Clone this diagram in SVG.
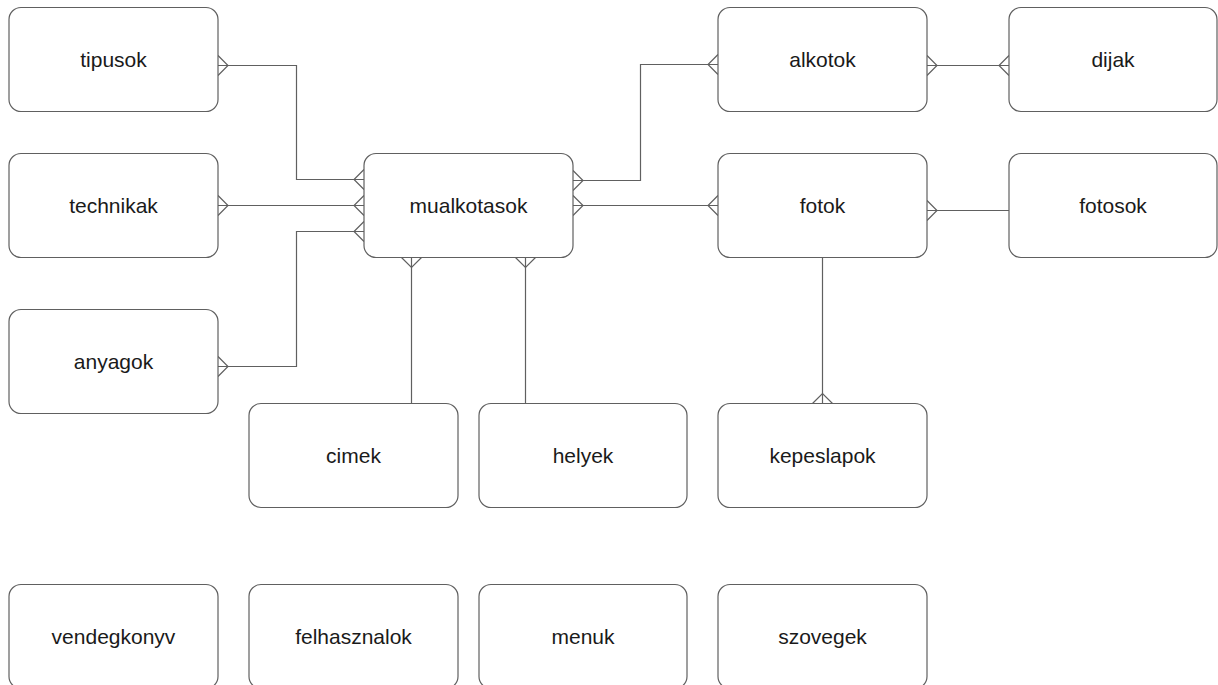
<svg xmlns="http://www.w3.org/2000/svg" width="1218" height="685" viewBox="0 0 1218 685">
<style>
.box{fill:#ffffff;stroke:#606060;stroke-width:1.2}
.lbl{font-family:"Liberation Sans",Arial,sans-serif;font-size:21px;fill:#1a1a1a;text-anchor:middle}
.con{fill:none;stroke:#606060;stroke-width:1.2}
.m{marker-start:url(#many);marker-end:url(#many)}
</style>
<defs>
<marker id="many" markerUnits="userSpaceOnUse" markerWidth="24" markerHeight="24" viewBox="-12 -12 24 24" refX="0" refY="0" orient="auto-start-reverse" overflow="visible">
<path d="M0,-10 L-10,0 L0,10" fill="none" stroke="#606060" stroke-width="1.2"/>
</marker>
</defs>
<rect width="1218" height="685" fill="#ffffff"/>
<g id="connectors">
<path class="con m" d="M218,65.5 H296.5 V179.5 H364"/>
<path class="con m" d="M218,205.5 H364"/>
<path class="con m" d="M218,366.5 H296.5 V231.5 H364"/>
<path class="con m" d="M573,180.5 H640.5 V64.5 H718"/>
<path class="con m" d="M573,205.5 H718"/>
<path class="con m" d="M927,65.5 H1009"/>
<path class="con" style="marker-start:url(#many)" d="M927,210.5 H1009"/>
<path class="con" style="marker-start:url(#many)" d="M411.5,257.5 V403.5"/>
<path class="con" style="marker-start:url(#many)" d="M525.5,257.5 V403.5"/>
<path class="con" style="marker-end:url(#many)" d="M822.5,257.5 V403.5"/>
</g>
<g id="tipusok"><rect class="box" x="9" y="7.5" width="209" height="104" rx="12"/><text class="lbl" x="113.5" y="66.5">tipusok</text></g>
<g id="technikak"><rect class="box" x="9" y="153.5" width="209" height="104" rx="12"/><text class="lbl" x="113.5" y="212.5">technikak</text></g>
<g id="anyagok"><rect class="box" x="9" y="309.5" width="209" height="104" rx="12"/><text class="lbl" x="113.5" y="368.5">anyagok</text></g>
<g id="mualkotasok"><rect class="box" x="364" y="153.5" width="209" height="104" rx="12"/><text class="lbl" x="468.5" y="212.5">mualkotasok</text></g>
<g id="alkotok"><rect class="box" x="718" y="7.5" width="209" height="104" rx="12"/><text class="lbl" x="822.5" y="66.5">alkotok</text></g>
<g id="dijak"><rect class="box" x="1009" y="7.5" width="208" height="104" rx="12"/><text class="lbl" x="1113" y="66.5">dijak</text></g>
<g id="fotok"><rect class="box" x="718" y="153.5" width="209" height="104" rx="12"/><text class="lbl" x="822.5" y="212.5">fotok</text></g>
<g id="fotosok"><rect class="box" x="1009" y="153.5" width="208" height="104" rx="12"/><text class="lbl" x="1113" y="212.5">fotosok</text></g>
<g id="cimek"><rect class="box" x="249" y="403.5" width="209" height="104" rx="12"/><text class="lbl" x="353.5" y="462.5">cimek</text></g>
<g id="helyek"><rect class="box" x="479" y="403.5" width="208" height="104" rx="12"/><text class="lbl" x="583" y="462.5">helyek</text></g>
<g id="kepeslapok"><rect class="box" x="718" y="403.5" width="209" height="104" rx="12"/><text class="lbl" x="822.5" y="462.5">kepeslapok</text></g>
<g id="vendegkonyv"><rect class="box" x="9" y="584.5" width="209" height="104" rx="12"/><text class="lbl" x="113.5" y="643.5">vendegkonyv</text></g>
<g id="felhasznalok"><rect class="box" x="249" y="584.5" width="209" height="104" rx="12"/><text class="lbl" x="353.5" y="643.5">felhasznalok</text></g>
<g id="menuk"><rect class="box" x="479" y="584.5" width="208" height="104" rx="12"/><text class="lbl" x="583" y="643.5">menuk</text></g>
<g id="szovegek"><rect class="box" x="718" y="584.5" width="209" height="104" rx="12"/><text class="lbl" x="822.5" y="643.5">szovegek</text></g>
</svg>
